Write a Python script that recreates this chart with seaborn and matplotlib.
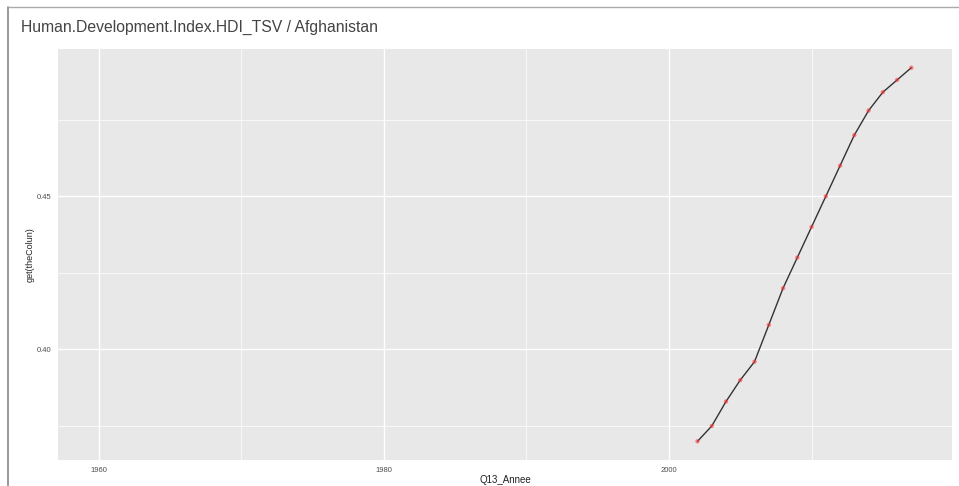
import numpy as np
import pandas as pd
import matplotlib
matplotlib.use("Agg")
import matplotlib.pyplot as plt
import seaborn as sns

# values
years = list(range(2002, 2018))
hdi = [0.370, 0.375, 0.383, 0.390, 0.396, 0.408, 0.420, 0.430,
       0.440, 0.450, 0.460, 0.470, 0.478, 0.484, 0.488, 0.492]
x_ticks = [1960, 1980, 2000]
y_ticks = [0.40, 0.45]
title = "Human.Development.Index.HDI_TSV / Afghanistan"

df = pd.DataFrame({"Q13_Annee": years, "get(theColun)": hdi})

sns.set_style("white")
plt.rcParams['font.family'] = ['Liberation Sans', 'DejaVu Sans']

fig = plt.figure(figsize=(9.59, 4.86), dpi=100)
ax = fig.add_axes([58 / 959, 26 / 486, 894 / 959, 411 / 486])
ax.set_facecolor("#E8E8E8")

sns.lineplot(data=df, x="Q13_Annee", y="get(theColun)", color="#333333",
             linewidth=1.0, ax=ax, zorder=3)
sns.scatterplot(data=df, x="Q13_Annee", y="get(theColun)", color="#FF3333",
                alpha=0.55, s=10, edgecolor="none", ax=ax, zorder=4)

# same padding as ggplot (5% of the 1960-2017 range)
ax.set_xlim(1960 - 0.05 * 57, 2017 + 0.05 * 57)
rng = max(hdi) - min(hdi)
ax.set_ylim(min(hdi) - 0.05 * rng, max(hdi) + 0.05 * rng)

ax.set_xticks(x_ticks)
ax.set_xticks([1970, 1990, 2010], minor=True)
ax.set_yticks(y_ticks)
ax.set_yticks([0.375, 0.425, 0.475], minor=True)
ax.set_yticklabels([f"{v:.2f}" for v in y_ticks])
ax.grid(which="major", color="white", linewidth=1.0)
ax.grid(which="minor", color="white", linewidth=0.5)
ax.set_axisbelow(True)
for s in ax.spines.values():
    s.set_visible(False)
ax.tick_params(which="major", length=2, width=0.6, color="#333333",
               labelsize=5.5, labelcolor="#4D4D4D", pad=3)
ax.tick_params(which="minor", length=0)

ax.set_xlabel("Q13_Annee", fontsize=7, color="#222222", labelpad=1)
ax.set_ylabel("get(theColun)", fontsize=6.5, color="#222222", labelpad=1)

fig.text(21 / 959, 1 - 27 / 486, title, fontsize=11.3, color="#444444",
         va="center", ha="left")

# screenshot frame lines
fig.add_artist(plt.Line2D([8 / 959, 8 / 959], [0, 1 - 7 / 486],
                          color="#888888", linewidth=1.2))
fig.add_artist(plt.Line2D([8 / 959, 1], [1 - 7 / 486, 1 - 7 / 486],
                          color="#aaaaaa", linewidth=1.0))

fig.savefig("out.png", dpi=100)
